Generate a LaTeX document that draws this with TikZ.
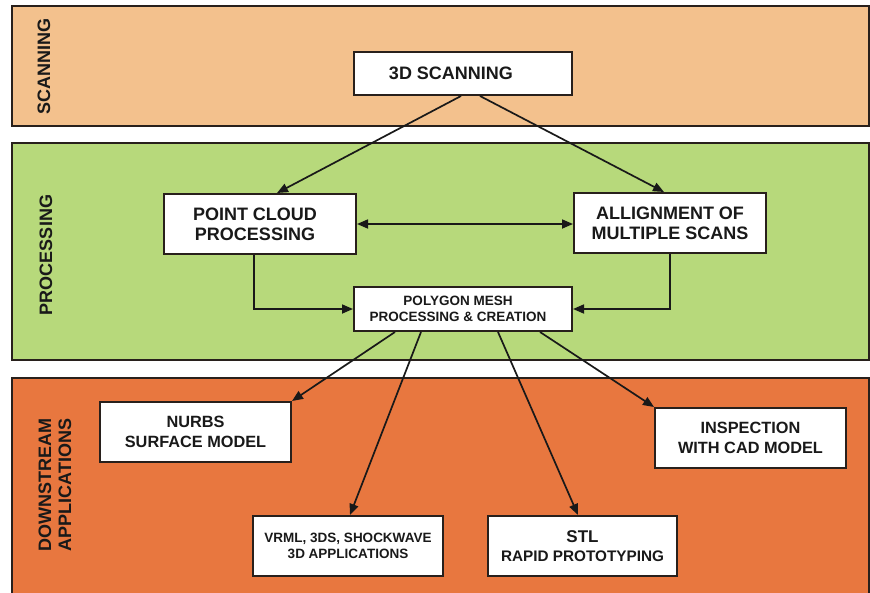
\documentclass[tikz,border=0pt]{standalone}
\usepackage{fontspec}
\setmainfont{Liberation Sans}
\usetikzlibrary{arrows.meta}
\definecolor{scanc}{RGB}{243,193,141}
\definecolor{procc}{RGB}{183,217,123}
\definecolor{downc}{RGB}{232,119,63}
\definecolor{edgec}{RGB}{40,32,28}
\definecolor{inkc}{RGB}{25,25,25}
\begin{document}
\begin{tikzpicture}[x=1pt,y=-1pt,
  band/.style={draw=edgec,line width=2pt},
  box/.style={draw=edgec,line width=2pt,fill=white,inner sep=0pt,align=center,text=inkc},
  conn/.style={draw=inkc,line width=1.7pt,-{Triangle[length=11pt,width=9pt]}},
  dconn/.style={draw=inkc,line width=1.7pt,{Triangle[length=11pt,width=9pt]}-{Triangle[length=11pt,width=9pt]}},
  bandlabel/.style={rotate=90,font=\fontsize{18}{20}\selectfont\bfseries,text=inkc,align=center,inner sep=0pt}]
\useasboundingbox (0,0) rectangle (870,592);
\clip (0,0) rectangle (870,592);
% bands
\draw[band,fill=scanc] (12,6) rectangle (869,126);
\draw[band,fill=procc] (12,143) rectangle (869,360);
\draw[band,fill=downc] (12,378) rectangle (869,600);
\node[bandlabel] (lscan) at (44,66.5) {SCANNING};
\node[bandlabel] (lproc) at (46,255) {PROCESSING};
\node[bandlabel] (ldown) at (55,485) {DOWNSTREAM\\APPLICATIONS};
% boxes
\node[box,minimum width=218.5pt,minimum height=43pt,font=\fontsize{18}{20}\selectfont\bfseries] (scan) at (463,73.5) {3D SCANNING\hspace*{24pt}};
\node[box,minimum width=192pt,minimum height=60pt,font=\fontsize{18}{20}\selectfont\bfseries] (pc) at (260,224) {POINT CLOUD\hspace*{10pt}\\PROCESSING\hspace*{10pt}};
\node[box,minimum width=192pt,minimum height=60pt,font=\fontsize{18}{20}\selectfont\bfseries] (al) at (670,223) {ALLIGNMENT OF\\MULTIPLE SCANS};
\node[box,minimum width=218pt,minimum height=44pt,font=\fontsize{13.5}{16}\selectfont\bfseries] (pm) at (463,309) {POLYGON MESH\hspace*{10pt}\\PROCESSING \& CREATION\hspace*{10pt}};
\node[box,minimum width=191pt,minimum height=60pt,font=\fontsize{16.3}{20.5}\selectfont\bfseries] (nurbs) at (195.5,432) {NURBS\\SURFACE MODEL};
\node[box,minimum width=191pt,minimum height=60pt,font=\fontsize{16.3}{20}\selectfont\bfseries] (insp) at (750.5,438) {INSPECTION\\WITH CAD MODEL};
\node[box,minimum width=190pt,minimum height=60pt,font=\fontsize{13.5}{15.5}\selectfont\bfseries] (vrml) at (348,546) {VRML, 3DS, SHOCKWAVE\\3D APPLICATIONS};
\node[box,minimum width=189pt,minimum height=60pt,font=\fontsize{15.3}{19}\selectfont\bfseries] (stl) at (582.5,546) {{\fontsize{17}{19}\selectfont STL}\\RAPID PROTOTYPING};
% connectors
\draw[conn] ([xshift=-2pt]scan.south) -- ([xshift=17pt]pc.north);
\draw[conn] ([xshift=17pt]scan.south) -- ([xshift=-6pt]al.north);
\draw[dconn] (pc.east) -- (pc.east -| al.west);
\draw[conn] ([xshift=-6pt]pc.south) |- (pm.west);
\draw[conn] (al.south) |- (pm.east);
\draw[conn] ([xshift=-68pt]pm.south) -- (nurbs.north east);
\draw[conn] ([xshift=-42pt]pm.south) -- ([xshift=2pt]vrml.north);
\draw[conn] ([xshift=35pt]pm.south) -- ([xshift=-4.5pt]stl.north);
\draw[conn] ([xshift=77pt]pm.south) -- (insp.north west);
\end{tikzpicture}
\end{document}
